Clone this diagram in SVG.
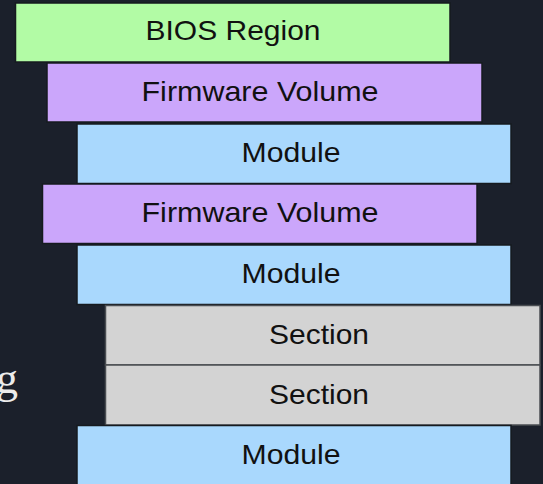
<svg xmlns="http://www.w3.org/2000/svg" width="543" height="484" viewBox="0 0 543 484">
  <style>
    .box { stroke: #161a1f; stroke-width: 1.5; }
    .region { fill: #b2fba5; }
    .fv { fill: #cba6fb; }
    .module { fill: #a9d8fd; }
    .section { fill: #d3d3d3; stroke: #4a4d52; }
    .label { font-family: "Liberation Sans", Arial, sans-serif; font-size: 28px; fill: #111111; text-anchor: middle; }
    .side { font-family: "Liberation Serif", "DejaVu Serif", serif; font-size: 44px; fill: #ececec; text-anchor: end; }
  </style>
  <rect width="543" height="484" fill="#1b202b"/>

  <!-- clipped trailing text from the left column -->
  <text class="side" x="18" y="393">g</text>

  <g id="bios-region">
    <rect class="box region" x="15.5" y="3" width="434.5" height="59"/>
    <text class="label" x="233" y="40" textLength="175" lengthAdjust="spacingAndGlyphs">BIOS Region</text>
  </g>
  <g id="firmware-volume-1">
    <rect class="box fv" x="47" y="63" width="435" height="59"/>
    <text class="label" x="260" y="100.5" textLength="237" lengthAdjust="spacingAndGlyphs">Firmware Volume</text>
  </g>
  <g id="module-1">
    <rect class="box module" x="77" y="124" width="434" height="59.5"/>
    <text class="label" x="291" y="162" textLength="99" lengthAdjust="spacingAndGlyphs">Module</text>
  </g>
  <g id="firmware-volume-2">
    <rect class="box fv" x="42.5" y="184" width="434.5" height="59.5"/>
    <text class="label" x="260" y="222" textLength="237" lengthAdjust="spacingAndGlyphs">Firmware Volume</text>
  </g>
  <g id="module-2">
    <rect class="box module" x="77" y="245" width="434" height="59.5"/>
    <text class="label" x="291" y="283" textLength="99" lengthAdjust="spacingAndGlyphs">Module</text>
  </g>
  <g id="section-1">
    <rect class="box section" x="105.5" y="305.5" width="434.5" height="59.5"/>
    <text class="label" x="319" y="344" textLength="100" lengthAdjust="spacingAndGlyphs">Section</text>
  </g>
  <g id="section-2">
    <rect class="box section" x="105.5" y="365" width="434.5" height="60"/>
    <text class="label" x="319" y="404" textLength="100" lengthAdjust="spacingAndGlyphs">Section</text>
  </g>
  <g id="module-3">
    <rect class="box module" x="77" y="425.5" width="434" height="62"/>
    <text class="label" x="291" y="464" textLength="99" lengthAdjust="spacingAndGlyphs">Module</text>
  </g>

  <g id="connectors"/>
</svg>
